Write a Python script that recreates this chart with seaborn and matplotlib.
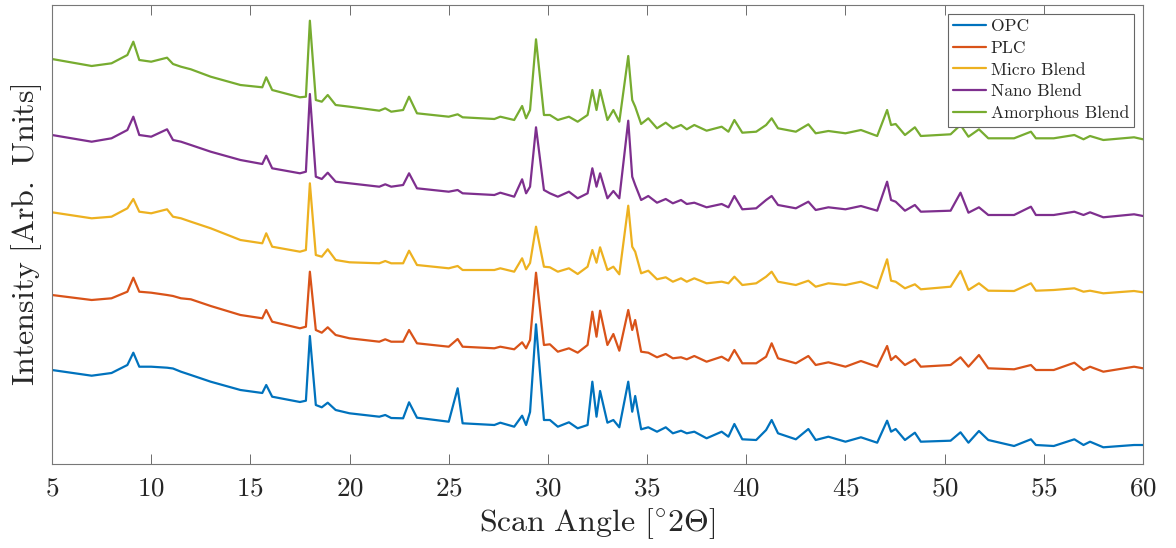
import numpy as np
import pandas as pd
import matplotlib
matplotlib.use("Agg")
import matplotlib.pyplot as plt
import seaborn as sns

# Scan angles (degrees 2-theta) at which the patterns were read
angle = [5, 7, 8, 8.8, 9.1, 9.4, 10, 10.8, 11.1, 11.5,
         12, 13, 14.5, 15.6, 15.8, 16.1, 17.5, 17.8, 18.0, 18.3,
         18.6, 18.9, 19.3, 20, 21.5, 21.8, 22.1, 22.7, 23.0, 23.4,
         25.0, 25.45, 25.7, 27.3, 27.6, 28.3, 28.7, 28.9, 29.1, 29.4,
         29.8, 30.1, 30.5, 31.06, 31.5, 32.0, 32.24, 32.45, 32.63, 33.0,
         33.3, 33.6, 34.05, 34.25, 34.4, 34.7, 35.06, 35.5, 35.94, 36.3,
         36.71, 37.0, 37.38, 38.0, 38.76, 39.1, 39.4, 39.8, 40.5, 41.0,
         41.28, 41.6, 42.5, 43.13, 43.5, 44.14, 45.0, 45.78, 46.6, 47.1,
         47.3, 47.53, 48.0, 48.5, 48.8, 50.3, 50.8, 51.2, 51.73, 52.2,
         53.5, 54.35, 54.6, 55.5, 56.54, 57.0, 57.33, 58.0, 59.55, 60]

# Stacked intensities (arbitrary units)
opc = [94, 88.3, 91, 99, 111.3, 97.3, 97.3, 96.3, 95.5, 92.3,
       89, 82.3, 74, 71, 79, 67.3, 62, 63.3, 128, 59,
       56.7, 61.3, 54, 50.7, 47.3, 49, 46, 45.7, 61.7, 46.3,
       42.3, 75.7, 40.7, 39, 41.3, 37.3, 48.3, 39, 52, 139.7,
       44, 44, 37.3, 41.7, 35.7, 39, 82.3, 47.3, 73, 41.3,
       44, 36.7, 82.3, 52.3, 68, 34.7, 36.7, 32.3, 36.7, 30.7,
       33.3, 30.7, 32.3, 25.7, 32.3, 27.3, 40, 24.7, 24, 34,
       44, 30.7, 24.7, 35, 24, 27.3, 22.3, 26.7, 21.3, 43.3,
       32.3, 35, 24, 31.3, 22.3, 23.3, 31.7, 21.3, 33, 24,
       18, 24.7, 19, 18, 24.7, 19, 22.3, 16.7, 19, 19]

plc = [169, 164, 165.7, 172.3, 186.3, 172.3, 171.3, 169, 168, 165.7,
       164.7, 158, 149, 145.7, 154, 142.3, 135.7, 137.3, 192.3, 134,
       131.3, 136.7, 129, 125.7, 122.3, 124.7, 122.3, 122.3, 134, 120.7,
       117.3, 125, 117.3, 115.7, 117.3, 114.7, 121.7, 115.7, 124, 191.3,
       119, 119.7, 112.3, 115.7, 111.3, 119, 152.3, 127.3, 153.3, 119,
       130, 113.3, 154, 134, 144, 112.3, 111.3, 106.7, 110, 105.7,
       106.7, 104.7, 108, 102.3, 107.3, 103.3, 114, 100.7, 100.7, 107.3,
       120.7, 105.7, 100.7, 108, 99, 101.7, 97.3, 103, 97.3, 118,
       104, 108, 99, 104.7, 97.3, 99, 106.7, 97.3, 109, 95.7,
       94.7, 99, 94, 94, 101.3, 94, 97.3, 92.3, 97.3, 95.7]

micro = [251.7, 245.7, 247.3, 255.7, 265, 252.3, 250.7, 254.7, 247.3, 245.7,
         242.3, 235.7, 224, 220.7, 230.7, 217.3, 212.3, 214, 280.7, 209,
         207.3, 214.7, 204, 201.7, 200.7, 203, 200.7, 200.7, 213.3, 199,
         195.7, 198, 194, 194, 195.7, 192.3, 205.7, 194.7, 201, 237.3,
         197.3, 196.7, 192.3, 195.7, 190, 197.3, 214, 201.3, 216.7, 194,
         197.3, 189.7, 258.3, 217.3, 212.3, 190.7, 193.3, 184.7, 186.7, 182.3,
         185.7, 182.3, 185.7, 180.7, 182.3, 180.7, 187.3, 179, 180.7, 187.3,
         192.3, 182.3, 179, 183.3, 177.3, 180.7, 179, 182.3, 175.7, 204.7,
         183.3, 182.3, 175.7, 179.7, 174.7, 177.3, 193, 174, 180.7, 173.3,
         173, 180.7, 173.3, 174, 175.7, 172.3, 173.3, 170.7, 173, 171.7]

nano = [329, 322.3, 325.7, 334, 347.3, 329, 327.3, 334.7, 324, 322.3,
        319, 312.3, 304, 300, 308.3, 295.7, 290.7, 292.3, 370, 287.3,
        285, 291.3, 282.3, 280.7, 277.3, 279.7, 277.3, 279, 290.7, 275.7,
        272.3, 274, 270.7, 269, 271.3, 267.3, 284.7, 270.7, 277.3, 336.7,
        274, 270.7, 267.3, 272.3, 265.7, 270.7, 295.7, 277.3, 290.7, 265.7,
        273, 265.7, 343.3, 287.3, 279, 264, 268, 261.3, 265, 260.7,
        264, 260, 261.3, 256.7, 260, 256.7, 268, 254.7, 255.7, 264,
        268, 259, 255.7, 262.3, 254, 256.7, 254.7, 258, 253.3, 282.3,
        264, 262.3, 253.3, 259, 252.3, 253.3, 271.3, 251.3, 256.7, 249,
        249, 257.3, 249, 249, 252.3, 249, 251.7, 246.7, 249.7, 248]

amorphous = [405, 398, 400.7, 409, 422.3, 404, 402.3, 406.3, 400, 397.3,
             394.7, 387.3, 379, 376.7, 386.7, 374, 366.7, 367.3, 443.3, 364,
             362.3, 369, 359, 357.3, 353.3, 355.7, 352.3, 354, 367.3, 350.7,
             347.3, 349.7, 346.7, 345, 347.3, 344, 358, 345.7, 354, 424.7,
             349, 349, 344, 347.3, 342.3, 349, 374, 354, 374, 344,
             354, 342.3, 408, 364, 357.3, 340, 345.7, 335.7, 341.3, 335.7,
             339, 334.7, 339, 333.3, 337.3, 332.3, 344, 331.3, 332.3, 339,
             345.7, 335.7, 332.3, 339.7, 330.7, 333, 330.7, 334, 328, 354,
             339, 340, 329, 336.7, 328, 329.7, 339, 327.3, 334.7, 325.7,
             325.7, 332.3, 325.7, 325.7, 329, 324.7, 328, 324, 326.7, 324.7]

samples = ["OPC", "PLC", "Micro Blend", "Nano Blend", "Amorphous Blend"]
series = [opc, plc, micro, nano, amorphous]
xticks = [5, 10, 15, 20, 25, 30, 35, 40, 45, 50, 55, 60]
colors = ["#0072BD", "#D95319", "#EDB120", "#7E2F8E", "#77AC30"]

df = pd.concat([pd.DataFrame({"angle": angle, "intensity": s, "sample": n})
                for n, s in zip(samples, series)], ignore_index=True)

sns.set_style("white")
plt.rcParams["font.family"] = "serif"
plt.rcParams["font.serif"] = ["cmr10"]
plt.rcParams["mathtext.fontset"] = "cm"
plt.rcParams["axes.formatter.use_mathtext"] = True
plt.rcParams["axes.unicode_minus"] = False

fig = plt.figure(figsize=(11.76, 5.48), dpi=100)
ax = fig.add_axes([52 / 1176, 1 - 464 / 548, (1143 - 52) / 1176, (464 - 5) / 548])

sns.lineplot(data=df, x="angle", y="intensity", hue="sample", hue_order=samples,
             palette=colors, estimator=None, sort=False, linewidth=1.6, ax=ax)

ax.set_xlim(5, 60)
ax.set_ylim(0, 459)
ax.set_xticks(xticks)
ax.set_xticklabels([f"${t}$" for t in xticks])
ax.set_yticks([])
ax.tick_params(axis="x", direction="in", length=7.5, width=0.6, color="#555555",
               top=True, bottom=True, labelsize=19.5, pad=9, labelcolor="#262626")
for sp in ax.spines.values():
    sp.set_visible(True)
    sp.set_color("#777777")
    sp.set_linewidth(0.8)

ax.set_xlabel(r"$\mathrm{Scan\ Angle\ {[}^{\circ}2\Theta]}$", fontsize=23, color="#262626", labelpad=4)
ax.set_ylabel(r"$\mathrm{Intensity\ [Arb.\ Units]}$", fontsize=23, color="#262626", labelpad=6)

leg = ax.legend(loc="upper right", fontsize=12.6, frameon=True, fancybox=False,
                framealpha=1, edgecolor="#666666", handlelength=1.9, handletextpad=0.25,
                borderpad=0.3, labelspacing=0.36, borderaxespad=0.5)
leg.get_frame().set_linewidth(0.8)
for line in leg.get_lines():
    line.set_linewidth(1.6)

fig.savefig("out.png", dpi=100)
